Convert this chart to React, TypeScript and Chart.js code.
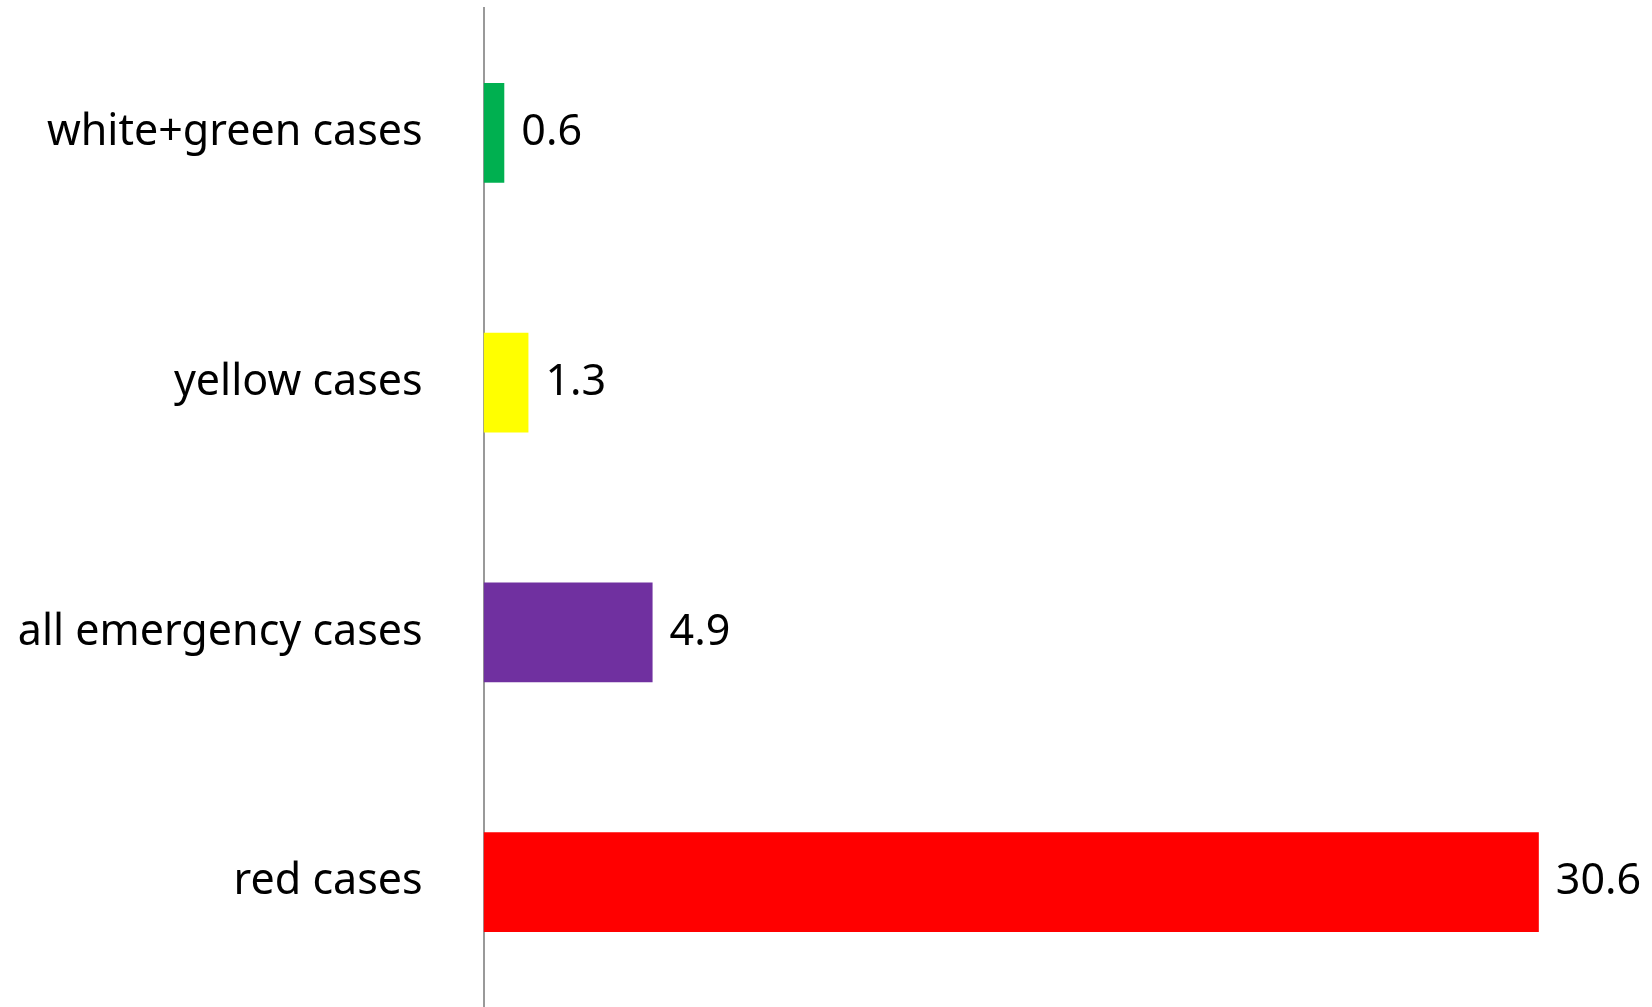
import React, { useEffect, useRef } from "react";
import { Chart, registerables } from "chart.js";

Chart.register(...registerables);

const categories = ["white+green cases", "yellow cases", "all emergency cases", "red cases"];
const values = [0.6, 1.3, 4.9, 30.6];
const barColors = ["#00B050", "#FFFF00", "#7030A0", "#FF0000"];
const xMin = 0;
const xMax = 33.65;

const FONT = "'Noto Sans', 'Open Sans', sans-serif";

const valueLabelPlugin = {
  id: "valueLabels",
  afterDatasetsDraw(chart: any) {
    const ctx = chart.ctx;
    const meta = chart.getDatasetMeta(0);
    ctx.save();
    ctx.font = `43px ${FONT}`;
    ctx.fillStyle = "#000";
    ctx.textAlign = "left";
    ctx.textBaseline = "middle";
    meta.data.forEach((bar: any, i: number) => {
      ctx.fillText(String(values[i]), bar.x + 17, bar.y);
    });
    ctx.restore();
  },
};

export default function App() {
  const ref = useRef<HTMLCanvasElement | null>(null);
  useEffect(() => {
    if (!ref.current) return;
    const chart = new Chart(ref.current, {
      type: "bar",
      data: {
        labels: categories,
        datasets: [
          {
            data: values,
            backgroundColor: barColors,
            borderWidth: 0,
            barPercentage: 0.4,
            categoryPercentage: 1,
          },
        ],
      },
      options: {
        indexAxis: "y",
        animation: false,
        responsive: false,
        layout: { padding: { top: 8, right: 8, bottom: 0, left: 0 } },
        plugins: { legend: { display: false }, tooltip: { enabled: false } },
        scales: {
          x: { display: false, min: xMin, max: xMax },
          y: {
            grid: { display: false, drawTicks: false },
            border: { display: true, color: "#999999", width: 2 },
            ticks: {
              color: "#000",
              font: { family: FONT, size: 43 },
              padding: 61,
              crossAlign: "near",
            },
            afterFit(scale: any) {
              scale.width = 483.6;
              scale.paddingTop = 0;
              scale.paddingBottom = 0;
            },
          },
        },
      },
      plugins: [valueLabelPlugin],
    });
    return () => chart.destroy();
  }, []);
  return (
    <canvas
      ref={ref}
      width={1652}
      height={1007}
      style={{ position: "absolute", left: 0, top: 0, display: "block", background: "#fff" }}
    />
  );
}
